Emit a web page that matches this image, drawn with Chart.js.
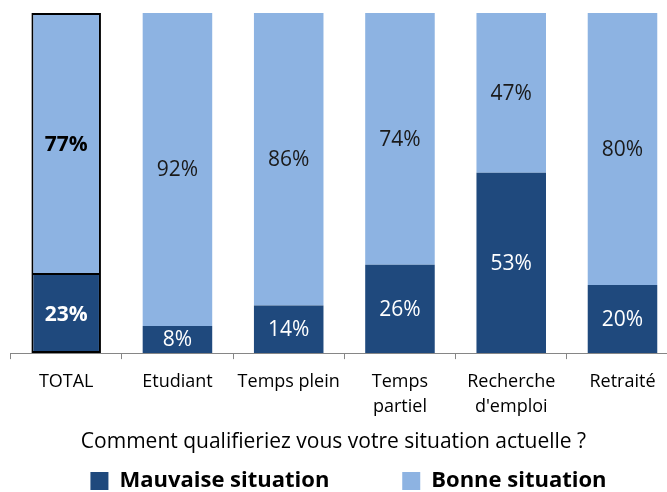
<!DOCTYPE html>
<html><head><meta charset="utf-8">
<script src="https://cdn.jsdelivr.net/npm/chart.js@4/dist/chart.umd.min.js"></script>
<style>html,body{margin:0;padding:0;background:#fff;overflow:hidden}#wrap{width:667px;height:492px;position:relative}</style>
</head><body><div id="wrap"><canvas id="c"></canvas></div>
<script>
const categories = ['TOTAL', 'Etudiant', 'Temps plein', ['Temps', 'partiel'], ['Recherche', "d'emploi"], 'Retraité'];
const mauvaise = [23, 8, 14, 26, 53, 20];
const bonne = [77, 92, 86, 74, 47, 80];
const seriesNames = ['Mauvaise situation', 'Bonne situation'];
const questionText = 'Comment qualifieriez vous votre situation actuelle ?';

const FONT = "'Open Sans', sans-serif";
const DARK = '#1F497D';
const LIGHT = '#8DB3E2';
const LEGEND_FONT = 22;
const LEGEND_PAD = 10;

const labelPlugin = {
  id: 'segLabels',
  afterDatasetsDraw(chart) {
    const ctx = chart.ctx;
    ctx.save();
    ctx.textAlign = 'center';
    ctx.textBaseline = 'middle';
    chart.data.datasets.forEach((ds, di) => {
      const meta = chart.getDatasetMeta(di);
      meta.data.forEach((el, i) => {
        const v = ds.data[i].y;
        const bold = i === 0;
        ctx.font = (bold ? 'bold ' : '') + '21px ' + FONT;
        ctx.fillStyle = di === 0 ? '#ffffff' : (bold ? '#000000' : '#1a1a1a');
        ctx.fillText(v + '%', el.x, (el.y + el.base) / 2 + 1);
      });
    });
    ctx.restore();
  }
};

const layoutTweak = {
  id: 'layoutTweak',
  afterLayout(chart) {
    if (chart.legend) { chart.legend.left += 20; }
    if (chart.titleBlock) { chart.titleBlock.left -= 10; }
  }
};

new Chart(document.getElementById('c'), {
  type: 'bar',
  data: {
    datasets: [
      {
        label: seriesNames[0],
        data: mauvaise.map((v, i) => ({ x: i, y: v })),
        backgroundColor: DARK,
        borderColor: c => c.dataIndex === 0 ? '#000' : DARK,
        borderWidth: c => c.dataIndex === 0 ? 2 : 0,
        borderSkipped: 'top'
      },
      {
        label: seriesNames[1],
        data: bonne.map((v, i) => ({ x: i, y: v })),
        backgroundColor: LIGHT,
        borderColor: c => c.dataIndex === 0 ? '#000' : LIGHT,
        borderWidth: c => c.dataIndex === 0 ? 2 : 0,
        borderSkipped: false
      }
    ]
  },
  options: {
    responsive: true,
    maintainAspectRatio: false,
    animation: false,
    devicePixelRatio: 1,
    layout: { padding: { top: 13, left: 10, right: 0, bottom: 0 } },
    datasets: { bar: { barPercentage: 1, categoryPercentage: 0.625 } },
    scales: {
      x: {
        type: 'linear',
        stacked: true,
        min: -0.505,
        max: 5.40,
        offset: false,
        afterBuildTicks: s => { s.ticks = categories.map((c, i) => ({ value: i })); },
        grid: { offset: true, drawOnChartArea: false, drawTicks: true, tickLength: 6, color: '#868686' },
        border: { color: '#868686', width: 1 },
        ticks: {
          autoSkip: false, maxRotation: 0, padding: 10, color: '#000',
          font: { family: FONT, size: 18, lineHeight: 1.38 },
          callback: v => categories[v]
        }
      },
      y: { stacked: true, min: 0, max: 100, display: false }
    },
    plugins: {
      tooltip: { enabled: false },
      title: {
        display: true, position: 'bottom', text: questionText, color: '#000',
        font: { family: FONT, size: 21, weight: 'normal', lineHeight: 1.2 },
        padding: { top: 1, bottom: 5 }
      },
      legend: {
        position: 'bottom', weight: 3000,
        maxHeight: LEGEND_FONT + LEGEND_PAD,
        labels: {
          color: '#000', boxWidth: 18, boxHeight: 18, padding: LEGEND_PAD,
          font: { family: FONT, size: LEGEND_FONT, weight: 'bold' },
          generateLabels: chart => chart.data.datasets.map((ds, i) => ({
            text: i === 0 ? ds.label + '\u00A0\u00A0\u00A0\u00A0\u00A0\u00A0\u00A0\u00A0\u00A0\u00A0\u00A0' : ds.label,
            fillStyle: ds.backgroundColor, strokeStyle: ds.backgroundColor, lineWidth: 0,
            datasetIndex: i, hidden: false
          }))
        }
      }
    }
  },
  plugins: [labelPlugin, layoutTweak]
});
</script>
</body></html>
